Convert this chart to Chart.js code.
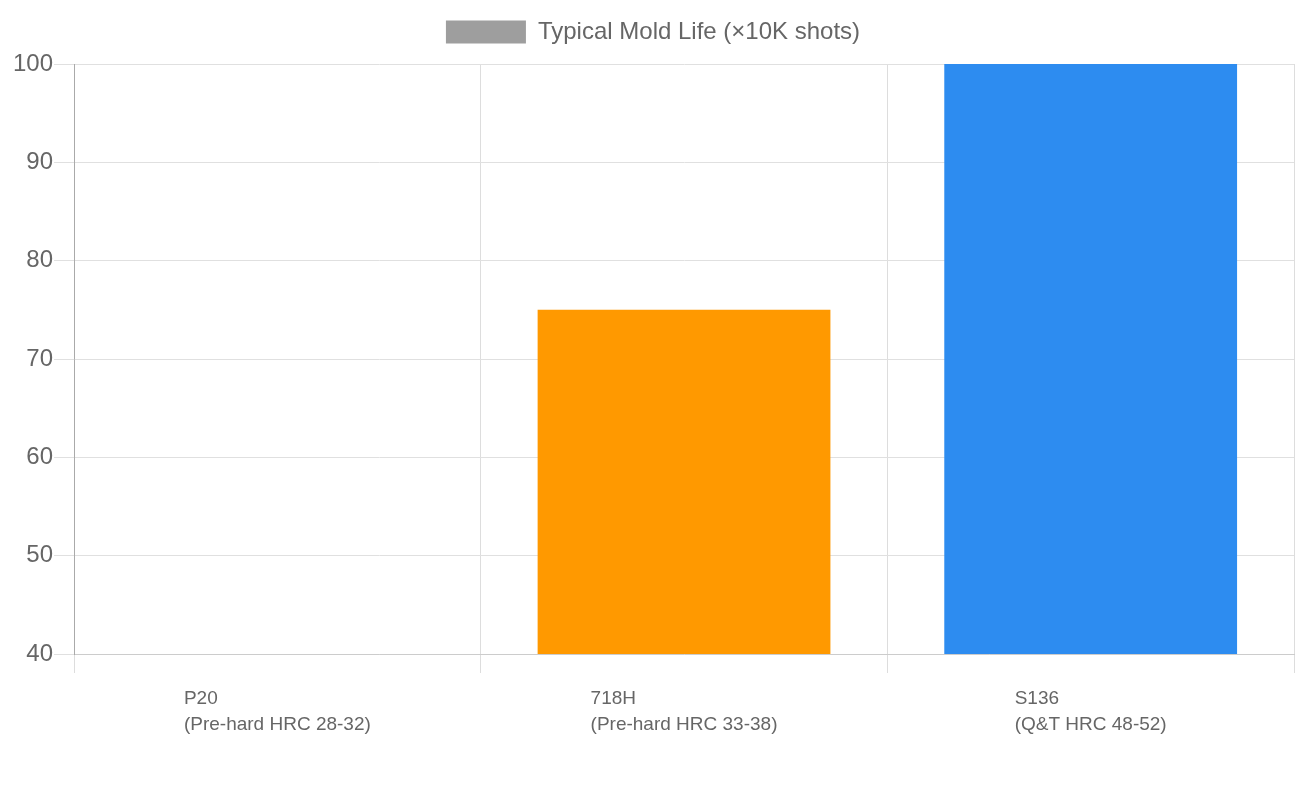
<!DOCTYPE html>
<html>
<head>
<meta charset="utf-8">
<script src="https://cdn.jsdelivr.net/npm/chart.js@4/dist/chart.umd.min.js"></script>
<style>
  html, body { margin: 0; padding: 0; background: #fff; }
  #wrap { width: 1300px; height: 800px; }
</style>
</head>
<body>
<div id="wrap"><canvas id="myChart" width="1300" height="800"></canvas></div>
<script>
var steels = [
  ['P20', '(Pre-hard HRC 28-32)'],
  ['718H', '(Pre-hard HRC 33-38)'],
  ['S136', '(Q&T HRC 48-52)']
];
var moldLife = [30, 75, 100];
var barColors = ['#9e9e9e', '#ff9900', '#2d8cf0'];
var yTicks = [40, 50, 60, 70, 80, 90, 100];

var labelFont = '19px "Liberation Sans", Arial, sans-serif';
var labelLine = 26;

// multi-line category labels, lines left aligned inside a centred block
var leftLabels = {
  id: 'leftLabels',
  afterDraw: function(chart) {
    var ctx = chart.ctx;
    var xs = chart.scales.x;
    ctx.save();
    ctx.font = labelFont;
    ctx.fillStyle = '#666';
    ctx.textAlign = 'left';
    ctx.textBaseline = 'middle';
    steels.forEach(function(lines, i) {
      var cx = xs.getPixelForTick(i);
      var w = 0;
      lines.forEach(function(l) { w = Math.max(w, ctx.measureText(l).width); });
      var top = xs.top + 19 + 13;
      lines.forEach(function(l, j) {
        ctx.fillText(l, cx - w / 2, top + labelLine * (j + 0.5));
      });
    });
    ctx.restore();
  }
};

// a bit more room under the legend
var legendGap = {
  id: 'legendGap',
  beforeInit: function(chart) {
    var fit = chart.legend.fit;
    chart.legend.fit = function() {
      fit.bind(chart.legend)();
      this.height += 10;
    };
  }
};

var ctx = document.getElementById('myChart').getContext('2d');
var myChart = new Chart(ctx, {
  type: 'bar',
  data: {
    labels: steels,
    datasets: [
      {
        label: 'Typical Mold Life (×10K shots)',
        data: moldLife,
        backgroundColor: barColors,
        borderWidth: 0
      }
    ]
  },
  options: {
    responsive: false,
    animation: false,
    layout: { padding: { top: 10, left: 12, right: 6, bottom: 49 } },
    plugins: {
      legend: {
        position: 'top',
        labels: {
          boxWidth: 80,
          boxHeight: 23,
          color: '#666',
          font: { family: '"Liberation Sans", Arial, sans-serif', size: 24 },
          generateLabels: function(chart) {
            var ds = chart.data.datasets[0];
            return [{
              text: ds.label,
              fillStyle: barColors[0],
              strokeStyle: barColors[0],
              lineWidth: 0,
              fontColor: '#666',
              datasetIndex: 0
            }];
          }
        }
      },
      tooltip: { enabled: false }
    },
    scales: {
      x: {
        grid: { color: '#dddddd', tickLength: 19, offset: true },
        border: { color: '#cccccc' },
        ticks: {
          color: 'transparent',
          padding: 13,
          font: { family: '"Liberation Sans", Arial, sans-serif', size: 19, lineHeight: labelLine / 19 }
        }
      },
      y: {
        min: yTicks[0],
        max: yTicks[yTicks.length - 1],
        grid: { color: '#e0e0e0', tickLength: 20 },
        border: { color: '#aaaaaa' },
        afterBuildTicks: function(scale) {
          scale.ticks = yTicks.map(function(v) { return { value: v }; });
        },
        ticks: {
          color: '#666',
          padding: 1,
          font: { family: '"Liberation Sans", Arial, sans-serif', size: 24 }
        }
      }
    }
  },
  plugins: [leftLabels, legendGap]
});
</script>
</body>
</html>
